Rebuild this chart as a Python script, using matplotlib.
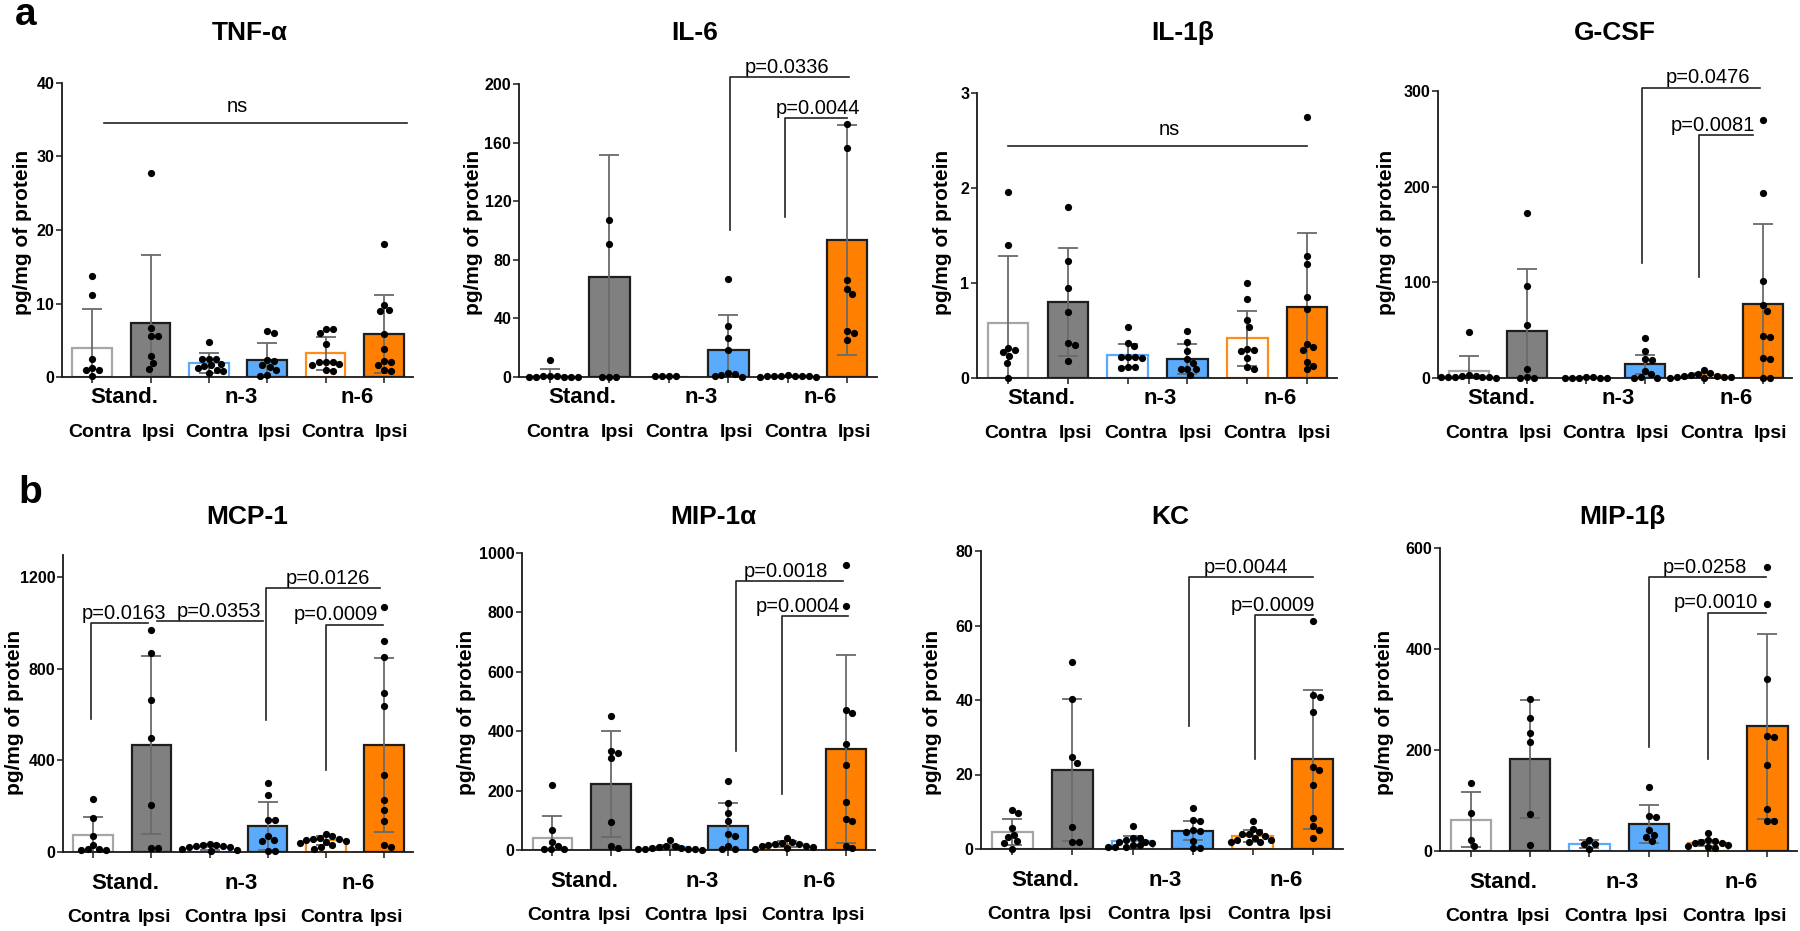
import numpy as np
import matplotlib
matplotlib.use('Agg')
import matplotlib.pyplot as plt

plt.rcParams['font.family'] = ['Liberation Sans', 'DejaVu Sans']

# ---------------- data ----------------
groups = ['Stand.', 'n-3', 'n-6']
sides = ['Contra', 'Ipsi']

tnf_means = [4.0, 7.4, 1.9, 2.3, 3.2, 5.8]
tnf_sd = [5.3, 9.2, 1.3, 2.3, 2.2, 5.3]
tnf_points = [
    [13.7, 11.2, 2.4, 1.2, 1.0, 0.9, 0.1],
    [27.8, 6.7, 5.6, 5.6, 2.8, 1.9, 1.1],
    [4.8, 2.5, 2.5, 2.4, 1.8, 1.6, 1.5, 1.2, 1.0, 0.8, 0.6],
    [6.3, 6.0, 2.3, 2.2, 1.6, 1.4, 1.0, 0.3, 0.2],
    [6.5, 6.5, 6.0, 4.5, 2.1, 2.0, 2.0, 1.8, 1.6, 0.9, 0.8],
    [18.1, 9.8, 9.1, 9.0, 5.8, 3.8, 2.2, 2.1, 1.6, 0.9, 0.8],
]

il6_means = [1.0, 68, 0.3, 18.7, 0.5, 93.5]
il6_sd = [4.7, 83.6, 0.0, 23.3, 0.5, 78.5]
il6_points = [
    [11.9, 0.6, 0.5, 0.4, 0.3, 0.3, 0.2, 0.2, 0.1],
    [107, 91, 0.3, 0.3, 0.3],
    [0.8, 0.6, 0.4, 0.5],
    [66.6, 34.7, 26.9, 18.2, 2.5, 2.0, 1.5, 1.0, 0.3],
    [1.2, 1.0, 0.8, 0.8, 0.6, 0.5, 0.4, 0.3, 0.2],
    [173, 156, 66, 60, 56.5, 31.5, 30, 25],
]

il1b_means = [0.58, 0.80, 0.24, 0.20, 0.42, 0.75]
il1b_sd = [0.70, 0.57, 0.12, 0.16, 0.29, 0.78]
il1b_points = [
    [1.96, 1.40, 0.32, 0.30, 0.27, 0.23, 0.16, 0.0],
    [1.80, 1.23, 0.95, 0.69, 0.37, 0.35, 0.18],
    [0.54, 0.37, 0.34, 0.22, 0.22, 0.22, 0.21, 0.12, 0.11, 0.12],
    [0.50, 0.38, 0.28, 0.20, 0.16, 0.10, 0.09, 0.09, 0.03],
    [1.00, 0.83, 0.61, 0.54, 0.31, 0.30, 0.28, 0.21, 0.12, 0.10],
    [2.75, 1.28, 1.20, 0.85, 0.73, 0.36, 0.33, 0.30, 0.17, 0.13, 0.09],
]

gcsf_means = [7.3, 48.8, 0.5, 14.3, 3.0, 77]
gcsf_sd = [15.7, 65, 0.3, 10, 2.5, 83.6]
gcsf_points = [
    [47.7, 3.0, 2.5, 2.0, 1.5, 1.0, 1.0, 0.8, 0.6, 0.5],
    [172.8, 96.2, 55.7, 9.8, 1.0, 0.5, 0.5],
    [0.8, 0.6, 0.5, 0.5, 0.4, 0.3, 0.2],
    [42, 28, 19.5, 19, 7.5, 4, 1.5, 0.5, 0.5],
    [8, 5, 4, 3, 2.5, 2, 1.5, 1, 1, 0.5, 0.5],
    [270, 193, 101, 76, 70.5, 44, 43, 21, 20, 0.5, 0.5],
]

mcp1_means = [73, 467, 22, 114, 51, 468]
mcp1_sd = [80, 390, 12, 105, 20, 380]
mcp1_points = [
    [233, 150, 70, 32, 15, 12, 10, 10],
    [970, 870, 666, 498, 204, 19, 19],
    [35, 32, 30, 28, 25, 22, 20, 15, 10, 5],
    [303, 251, 141, 138, 70, 54, 50, 5, 5],
    [78, 68, 62, 58, 55, 52, 48, 42, 40, 30, 20, 15],
    [1069, 921, 853, 695, 637, 335, 229, 182, 136, 32, 22],
]

mip1a_means = [42, 222, 10, 81, 19, 341]
mip1a_sd = [72, 178, 8, 76, 10, 317]
mip1a_points = [
    [218, 67, 28, 15, 5, 3, 3],
    [452, 334, 328, 310, 93, 15, 6],
    [32, 15, 12, 10, 8, 6, 5, 4, 3, 2, 1],
    [232, 157, 123, 99, 54, 48, 15, 5, 5],
    [41, 26, 24, 21, 20, 18, 15, 12, 10, 8, 5],
    [958, 822, 473, 460, 356, 286, 163, 104, 97, 15, 6],
]

kc_means = [4.5, 21.3, 2.05, 4.9, 3.6, 24.1]
kc_sd = [3.5, 19.1, 1.55, 2.5, 1.6, 18.6]
kc_points = [
    [10.5, 9.6, 5.6, 3.8, 3.1, 2.1, 1.6, 0.1],
    [50.3, 40.4, 24.6, 23.2, 5.9, 2.0, 2.0],
    [6.1, 3.0, 3.0, 2.5, 2.0, 2.0, 1.5, 1.0, 1.0, 0.5, 0.5, 0.5],
    [11.1, 7.7, 7.6, 5.0, 4.8, 4.5, 2.2, 0.2, 0.2],
    [7.4, 5.5, 4.5, 4.0, 4.0, 3.5, 3.0, 2.5, 2.5, 2.0, 2.0, 1.8],
    [61.2, 41.3, 40.7, 36.9, 22.1, 21.3, 17.2, 8.3, 6.1, 5.2, 2.9],
]

mip1b_means = [62, 183, 13, 54, 16, 247]
mip1b_sd = [55, 117, 8, 38, 6, 183]
mip1b_points = [
    [135, 76, 22.5, 10],
    [301, 263, 234, 216, 73, 11],
    [22.5, 14, 13, 3],
    [126, 69, 67, 41, 32, 28, 19],
    [36, 22, 20, 18, 15, 15, 12, 10, 8, 5],
    [563, 489, 340, 228, 226, 170, 84, 60, 60],
]

# significance annotations: (x_start, x_end, y_line, y_leg_bottom, label, text_x)
tnf_ns = (0.2, 5.4, 34.5, 'ns', 2.48)
il1b_ns = (0.0, 5.0, 2.44, 'ns', 2.7)
il6_br = [(3.03, 5.03, 204.8, 100.3, 'p=0.0336', 3.99),
          (3.95, 5.0, 177, 109.5, 'p=0.0044', 4.5)]
gcsf_br = [(2.95, 4.96, 303.5, 120.6, 'p=0.0476', 4.07),
           (3.91, 4.83, 253.7, 105.6, 'p=0.0081', 4.15)]
mcp1_br = [(-0.03, 0.95, 999, 583, 'p=0.0163', 0.53),
           (1.1, 2.92, 1009, None, 'p=0.0353', 2.16),
           (2.97, 4.94, 1155, 576, 'p=0.0126', 4.03),
           (4.0, 4.99, 994, 360, 'p=0.0009', 4.18)]
mip1a_br = [(3.13, 4.96, 906, 333, 'p=0.0018', 3.98),
            (3.92, 5.04, 788, 190, 'p=0.0004', 4.18)]
kc_br = [(2.94, 5.0, 72.9, 32.9, 'p=0.0044', 3.88),
         (4.04, 5.0, 62.8, 24.1, 'p=0.0009', 4.33)]
mip1b_br = [(3.0, 4.97, 542, 205, 'p=0.0258', 3.94),
            (4.0, 4.97, 472, 183, 'p=0.0010', 4.13)]

# ---------------- style ----------------
face_colors = ['white', '#808080', 'white', '#5aabfb', 'white', '#ff8000']
edge_colors = ['#a6a6a6', '#1e1e1e', '#5aaaff', '#1e1e1e', '#ff8c1a', '#1e1e1e']

W, H = 1800, 931
fig = plt.figure(figsize=(18, 9.31), dpi=100)

# panel layout: title, means, sd, points, ytop, yticks, box(L,R,T,B px), title_x, ylabel_x, row, ns, brackets
panels = [
    ('TNF-α', tnf_means, tnf_sd, tnf_points, 40, [0, 10, 20, 30, 40], (62, 413, 83, 377), 250, 23, 0, tnf_ns, []),
    ('IL-6', il6_means, il6_sd, il6_points, 200, [0, 40, 80, 120, 160, 200], (519, 877, 84, 377), 695, 474, 0, None, il6_br),
    ('IL-1β', il1b_means, il1b_sd, il1b_points, 3, [0, 1, 2, 3], (977, 1337, 93, 378), 1183, 943, 0, il1b_ns, []),
    ('G-CSF', gcsf_means, gcsf_sd, gcsf_points, 300, [0, 100, 200, 300], (1438, 1792, 91, 378), 1615, 1387, 0, None, gcsf_br),
    ('MCP-1', mcp1_means, mcp1_sd, mcp1_points, 1298, [0, 400, 800, 1200], (63, 413, 555, 852), 247, 15, 1, None, mcp1_br),
    ('MIP-1α', mip1a_means, mip1a_sd, mip1a_points, 1000, [0, 200, 400, 600, 800, 1000], (522, 875, 553, 850), 713, 466, 1, None, mip1a_br),
    ('KC', kc_means, kc_sd, kc_points, 80, [0, 20, 40, 60, 80], (981, 1343, 551, 849), 1170, 932, 1, None, kc_br),
    ('MIP-1β', mip1b_means, mip1b_sd, mip1b_points, 600, [0, 200, 400, 600], (1440, 1797, 548, 851), 1622, 1385, 1, None, mip1b_br),
]

dot_d = 7.0  # px


def swarm_x(ax, xc, vals, d):
    vals = np.asarray(vals, float)
    pts = ax.transData.transform(np.column_stack([np.full(len(vals), xc), vals]))
    ys = pts[:, 1]
    order = np.argsort(-vals, kind='stable')
    placed = []
    offs = np.zeros(len(vals))
    for i in order:
        y = ys[i]
        cands = [0.0]
        for (px, py) in placed:
            dy = y - py
            if abs(dy) < d:
                dx = np.sqrt(d * d - dy * dy)
                cands += [px + dx, px - dx]
        cands.sort(key=abs)
        chosen = cands[-1]
        for c in cands:
            if all((c - px) ** 2 + (y - py) ** 2 >= d * d - 1e-6 for px, py in placed):
                chosen = c
                break
        placed.append((chosen, y))
        offs[i] = chosen
    x0 = pts[0, 0] if len(vals) else 0
    back = ax.transData.inverted().transform(np.column_stack([x0 + offs, ys]))
    return back[:, 0]


xpos = np.arange(6)
for (title, means, sds, points, ytop, yticks, box, tx, ylx, row, ns, brs) in panels:
    L, R, T, B = box
    ax = fig.add_axes([L / W, 1 - B / H, (R - L) / W, (B - T) / H])
    ax.set_xlim(-0.52, 5.5)
    ax.set_ylim(0, ytop)
    for s in ['top', 'right']:
        ax.spines[s].set_visible(False)
    for s in ['left', 'bottom']:
        ax.spines[s].set_linewidth(1.3)
        ax.spines[s].set_color('#1a1a1a')
    ax.set_yticks(yticks)
    ax.set_yticklabels([str(t) for t in yticks], fontsize=11.5, fontweight='bold')
    ax.set_xticks(xpos)
    ax.set_xticklabels([])
    ax.tick_params(axis='both', length=4, width=1.1, color='#1a1a1a', pad=1.5)

    ax.bar(xpos, means, width=0.68, color=face_colors, edgecolor=edge_colors,
           linewidth=1.6, zorder=1)
    ax.errorbar(xpos, means, yerr=sds, fmt='none', ecolor='#6a6a6a', elinewidth=1.3,
                capsize=7, capthick=1.3, zorder=2)
    for i in range(6):
        xs = swarm_x(ax, xpos[i], points[i], dot_d)
        ax.plot(xs, points[i], 'o', color='black', markersize=5.2, markeredgewidth=0,
                zorder=3, clip_on=False)

    # text below axis
    gdy, cdy = (15, 40) if row == 0 else (23, 47)
    for gi, g in enumerate(groups):
        ax.annotate(g, xy=(2 * gi + 0.55, 0), xycoords=('data', 'axes fraction'),
                    xytext=(0, -gdy), textcoords='offset points', ha='center', va='center',
                    fontsize=16, fontweight='bold')
    for i in range(6):
        off = 0.13 if row == 0 else (0.1 if i % 2 == 0 else 0.05)
        ax.annotate(sides[i % 2], xy=(i + off, 0), xycoords=('data', 'axes fraction'),
                    xytext=(0, -cdy), textcoords='offset points', ha='center', va='center',
                    fontsize=14, fontweight='bold')

    # ns line
    if ns is not None:
        x0, x1, yl, lab, txx = ns
        ax.plot([x0, x1], [yl, yl], color='#222222', lw=1.2, clip_on=False, zorder=4)
        ax.annotate(lab, xy=(txx, yl), xytext=(0, 8), textcoords='offset points',
                    ha='center', va='baseline', fontsize=14.5)
    for (x0, x1, yh, yleg, lab, txx) in brs:
        if yleg is None:
            ax.plot([x0, x1], [yh, yh], color='#222222', lw=1.2, clip_on=False, zorder=4)
        else:
            ax.plot([x0, x0, x1], [yleg, yh, yh], color='#222222', lw=1.2,
                    clip_on=False, zorder=4)
        ax.annotate(lab, xy=(txx, yh), xytext=(0, 3), textcoords='offset points',
                    ha='center', va='baseline', fontsize=14.5, annotation_clip=False)

    ty = 33 if row == 0 else 517
    fig.text(tx / W, 1 - ty / H, title, ha='center', va='center', fontsize=19,
             fontweight='bold')
    yc = 232 if row == 0 else 712
    fig.text(ylx / W, 1 - yc / H, 'pg/mg of protein', rotation=90, ha='center',
             va='center', fontsize=15, fontweight='bold')

fig.text(15 / W, 1 - 25 / H, 'a', fontsize=28, fontweight='bold', ha='left', va='baseline')
fig.text(18 / W, 1 - 503 / H, 'b', fontsize=28, fontweight='bold', ha='left', va='baseline')

fig.savefig('out.png', dpi=100, facecolor='white')
